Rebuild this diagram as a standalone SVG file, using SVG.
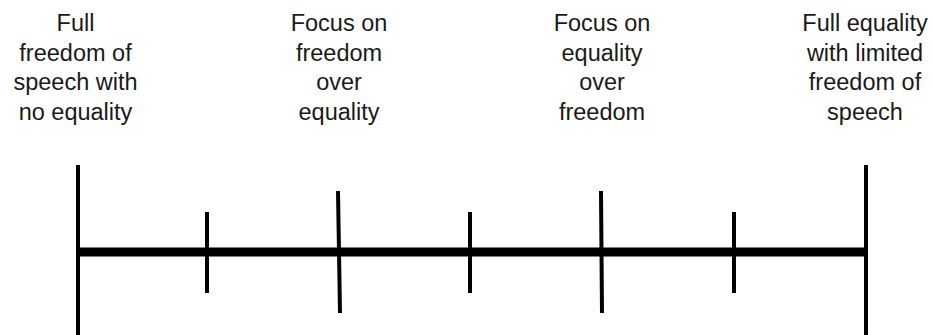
<svg xmlns="http://www.w3.org/2000/svg" width="933" height="335" viewBox="0 0 933 335">
<style>
text{font-family:"Liberation Sans",Arial,sans-serif;font-size:23.5px;fill:#1a1a1a;text-anchor:middle}
.ax{stroke:#000;fill:none}
</style>
<rect width="933" height="335" fill="#fff"/>
<g id="label1"><text x="75.5" y="31">Full</text><text x="75.5" y="60.5">freedom of</text><text x="75.5" y="90">speech with</text><text x="75.5" y="119.5">no equality</text></g>
<g id="label2"><text x="339" y="31">Focus on</text><text x="339" y="60.5">freedom</text><text x="339" y="90">over</text><text x="339" y="119.5">equality</text></g>
<g id="label3"><text x="602" y="31">Focus on</text><text x="602" y="60.5">equality</text><text x="602" y="90">over</text><text x="602" y="119.5">freedom</text></g>
<g id="label4"><text x="865" y="31">Full equality</text><text x="865" y="60.5">with limited</text><text x="865" y="90">freedom of</text><text x="865" y="119.5">speech</text></g>
<g id="connectors">
<line class="ax" x1="78" y1="252" x2="866" y2="252" stroke-width="9"/>
<line class="ax" x1="78" y1="165" x2="78" y2="335" stroke-width="4"/>
<line class="ax" x1="866" y1="165" x2="866" y2="335" stroke-width="4"/>
<line class="ax" x1="207" y1="212" x2="207" y2="293" stroke-width="4"/>
<line class="ax" x1="338" y1="191" x2="340" y2="313" stroke-width="4"/>
<line class="ax" x1="470" y1="212" x2="470" y2="293" stroke-width="4"/>
<line class="ax" x1="601" y1="191" x2="602" y2="313" stroke-width="4"/>
<line class="ax" x1="734" y1="212" x2="734" y2="293" stroke-width="4"/>
</g>
</svg>
